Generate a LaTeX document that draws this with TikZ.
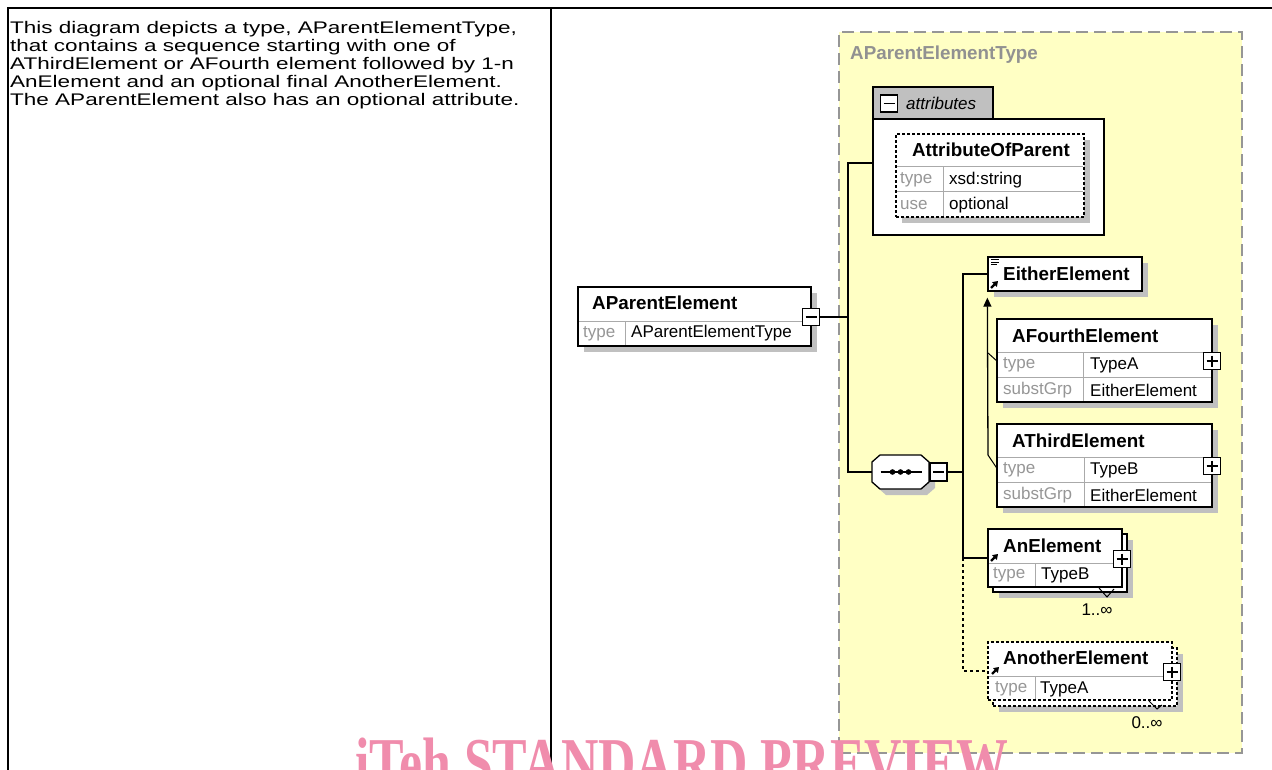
\documentclass[tikz,border=0pt]{standalone}
\usepackage{fontspec}
\setmainfont{Liberation Sans}
\newfontfamily\stretchfont[FakeStretch=1.34]{Liberation Sans}
\newfontfamily\wmfont[FakeStretch=0.74]{Liberation Serif}
\usetikzlibrary{shadows,arrows.meta}
\definecolor{yellowbg}{RGB}{255,255,196}
\definecolor{dashgray}{RGB}{150,150,150}
\definecolor{shadowgray}{RGB}{192,192,192}
\definecolor{tabgray}{RGB}{192,192,192}
\definecolor{rowgray}{RGB}{170,170,170}
\definecolor{typegray}{RGB}{150,150,150}
\definecolor{lblgray}{RGB}{145,145,145}
\definecolor{wmpink}{RGB}{240,140,172}
\begin{document}
\begin{tikzpicture}[x=1pt,y=-1pt,
  box/.style={draw=black, line width=1.3pt, fill=white, inner sep=0pt, rectangle},
  shbox/.style={box, drop shadow={shadow xshift=6pt, shadow yshift=-6pt, fill=shadowgray, opacity=1}},
  dshbox/.style={shbox, dash pattern=on 3pt off 2pt},
  dbox/.style={box, dash pattern=on 3pt off 2pt},
  titletxt/.style={font=\fontsize{18.8}{20}\selectfont\bfseries, inner sep=0pt, anchor=west},
  valtxt/.style={font=\fontsize{17}{19}\selectfont, inner sep=0pt, anchor=west},
  keytxt/.style={valtxt, text=typegray},
  rowline/.style={draw=rowgray, line width=1pt},
  conn/.style={draw=black, line width=1.3pt},
  minusbox/.style={draw=black, line width=1.3pt, fill=white, minimum width=17pt, minimum height=17pt, inner sep=0pt,
    path picture={\draw[line width=1.2pt] ([xshift=3pt]path picture bounding box.west) -- ([xshift=-3pt]path picture bounding box.east);}},
  plusbox/.style={minusbox,
    path picture={\draw[line width=1.2pt] ([xshift=3pt]path picture bounding box.west) -- ([xshift=-3pt]path picture bounding box.east)
      ([yshift=-3pt]path picture bounding box.north) -- ([yshift=3pt]path picture bounding box.south);}},
  refarrow/.style={line width=2.2pt, -{Triangle[length=5pt,width=6.5pt]}},
  seqbox/.style={draw=none, rectangle, minimum width=57pt, minimum height=34pt, inner sep=0pt},
  typeregion/.style={draw=dashgray, fill=yellowbg, line width=2pt, dash pattern=on 12pt off 6pt, inner sep=0pt},
  lefttext/.style={font=\stretchfont\fontsize{16.8}{18}\selectfont, align=left, inner sep=0pt},
  wmtext/.style={font=\wmfont\bfseries\fontsize{70}{70}\selectfont, text=wmpink, inner sep=0pt}
]
\useasboundingbox (0,0) rectangle (1272,770);
\fill[white] (0,0) rectangle (1272,770);

% table frame
\draw[line width=2pt] (8,770) -- (8,8) -- (1272,8);
\draw[line width=1.3pt] (551,8) -- (551,770);

\node[lefttext, anchor=north west] (desc) at (10,21) {This diagram depicts a type, AParentElementType,\\
that contains a sequence starting with one of\\
AThirdElement or AFourth element followed by 1-n\\
AnElement and an optional final AnotherElement.\\
The AParentElement also has an optional attribute.};

% complex type region
\node[typeregion, minimum width=403pt, minimum height=721pt] (ptype) at (1040.5,392.5) {};
\node[titletxt, text=lblgray] (ptype-l) at (850,55) {AParentElementType};

% AParentElement
\node[shbox, minimum width=233pt, minimum height=59pt] (pe) at (694.5,316.5) {};
\draw[rowline] (579,321) -- (810,321) (625,321) -- (625,345);
\node[titletxt] (pe-t) at (592,303) {AParentElement};
\node[keytxt] (pe-k) at (583,333.5) {type};
\node[valtxt] (pe-v) at (631,333.5) {AParentElementType};
\node[minusbox] (pe-m) at (811,317) {};

% attributes
\node[box, fill=tabgray, minimum width=120pt, minimum height=32pt] (attr-tab) at (933,103) {};
\node[box, minimum width=231pt, minimum height=116pt] (attr) at (988.5,177) {};
\node[minusbox] (attr-m) at (889,103.5) {};
\node[valtxt, font=\fontsize{17}{19}\selectfont\itshape] (attr-l) at (906,103.5) {attributes};

\node[dshbox, minimum width=188pt, minimum height=83pt] (aop) at (990,175.5) {};
\draw[rowline] (897,167) -- (1083,167) (897,192) -- (1083,192) (943,167) -- (943,216);
\node[titletxt, anchor=center] (aop-t) at (991,150) {AttributeOfParent};
\node[keytxt] (aop-k1) at (900,180) {type};
\node[valtxt] (aop-v1) at (949,180) {xsd:string};
\node[keytxt] (aop-k2) at (900,205) {use};
\node[valtxt] (aop-v2) at (949,205) {optional};

% sequence
\node[seqbox] (seq) at (900.5,472) {};
\fill[shadowgray] (886,461) -- (927,461) -- (935,468) -- (935,488) -- (927,495) -- (886,495) -- (878,488) -- (878,468) -- cycle;
\draw[line width=1.3pt, fill=white] (880,455) -- (921,455) -- (929,462) -- (929,482) -- (921,489) -- (880,489) -- (872,482) -- (872,462) -- cycle;
\draw[line width=1.3pt] ([xshift=-20pt]seq.center) -- ([xshift=21pt]seq.center);
\foreach \dx in {-8,0,8} \fill ([xshift=\dx pt]seq.center) circle (2.8pt);
\node[minusbox, minimum width=17pt, minimum height=18pt] (seq-m) at (938.5,472) {};

% EitherElement
\node[shbox, minimum width=154pt, minimum height=34pt] (either) at (1065,274) {};
\node[titletxt] (either-t) at (1003,274) {EitherElement};
\draw[line width=0.9pt] (991,259.5) -- (999,259.5) (991,262) -- (999,262) (991,264.5) -- (997,264.5);
\draw[refarrow] (991,288) -- (998,281);

% AFourthElement
\node[shbox, minimum width=215pt, minimum height=83pt] (a4) at (1104.5,360.5) {};
\draw[rowline] (998,352) -- (1211,352) (998,377) -- (1211,377) (1083,352) -- (1083,401);
\node[titletxt] (a4-t) at (1012,335.5) {AFourthElement};
\node[keytxt] (a4-k1) at (1003,365) {type};
\node[valtxt] (a4-v1) at (1090,365) {TypeA};
\node[keytxt] (a4-k2) at (1003,390) {substGrp};
\node[valtxt] (a4-v2) at (1090,390) {EitherElement};
\node[plusbox] (a4-p) at (1212,361) {};

% AThirdElement
\node[shbox, minimum width=215pt, minimum height=83pt] (a3) at (1104.5,465.5) {};
\draw[rowline] (998,457) -- (1211,457) (998,482) -- (1211,482) (1084,457) -- (1084,506);
\node[titletxt] (a3-t) at (1012,440.5) {AThirdElement};
\node[keytxt] (a3-k1) at (1003,470) {type};
\node[valtxt] (a3-v1) at (1090,470) {TypeB};
\node[keytxt] (a3-k2) at (1003,495) {substGrp};
\node[valtxt] (a3-v2) at (1090,495) {EitherElement};
\node[plusbox] (a3-p) at (1212,466) {};

% AnElement (1..inf)
\node[shbox, minimum width=134pt, minimum height=58pt] (an-back) at (1060,563) {};
\node[box, minimum width=134pt, minimum height=58pt] (an) at (1055,558) {};
\draw[rowline] (989,563) -- (1121,563) (1035,563) -- (1035,586);
\node[titletxt] (an-t) at (1003,546) {AnElement};
\node[keytxt] (an-k) at (993,575) {type};
\node[valtxt] (an-v) at (1041,575) {TypeB};
\node[plusbox] (an-p) at (1122,559) {};
\draw[line width=1pt] (1099,588) -- (1107,597) -- (1114,589);
\draw[refarrow] (991,561) -- (998,554);
\node[valtxt, anchor=center] (an-mult) at (1097,610) {1..∞};

% AnotherElement (0..inf)
\node[dshbox, minimum width=184pt, minimum height=58pt] (ano-back) at (1085,677) {};
\node[dbox, minimum width=184pt, minimum height=58pt] (ano) at (1080,671) {};
\draw[rowline] (989,676) -- (1171,676) (1035,676) -- (1035,699);
\node[titletxt] (ano-t) at (1003,658) {AnotherElement};
\node[keytxt] (ano-k) at (995,689) {type};
\node[valtxt] (ano-v) at (1040,689) {TypeA};
\node[plusbox] (ano-p) at (1172,672) {};
\draw[line width=1pt] (1149,701) -- (1157,709) -- (1162,705);
\draw[refarrow] (992,674) -- (999,667);
\node[valtxt, anchor=center] (ano-mult) at (1147,723) {0..∞};

% connectors
\coordinate (t1a) at (848,163);
\coordinate (t1m) at (848,317);
\coordinate (t1b) at (848,472);
\draw[conn] (pe-m.east) -- (t1m);
\draw[conn] (attr.west |- t1a) -- (t1a) -- (t1b) -- (seq.west);

\coordinate (t2a) at (963,274);
\coordinate (t2m) at (963,472);
\coordinate (t2c) at (963,558);
\coordinate (t2d) at (963,671);
\draw[conn] (seq-m.east) -- (t2m);
\draw[conn] (either.west) -- (t2a) -- (t2c) -- (an.west);
\draw[conn, dash pattern=on 3pt off 3pt] (t2c) -- (t2d) -- (ano.west);

\coordinate (sb3) at (988,455);
\coordinate (sb4) at (988,353);
\draw[conn, -{Triangle[length=9pt,width=8pt]}] (sb3) -- ([yshift=-6pt]either.south west);
\draw[line width=1pt] (sb4) -- (a4.west);
\draw[line width=1pt] (sb3) -- ([yshift=-2pt]a3.west);

% watermark
\begin{scope}
\clip (0,0) rectangle (1272,770);
\node[wmtext, anchor=base west] (wm) at (355,786) {iTeh STANDARD PREVIEW};
\end{scope}
\end{tikzpicture}
\end{document}
